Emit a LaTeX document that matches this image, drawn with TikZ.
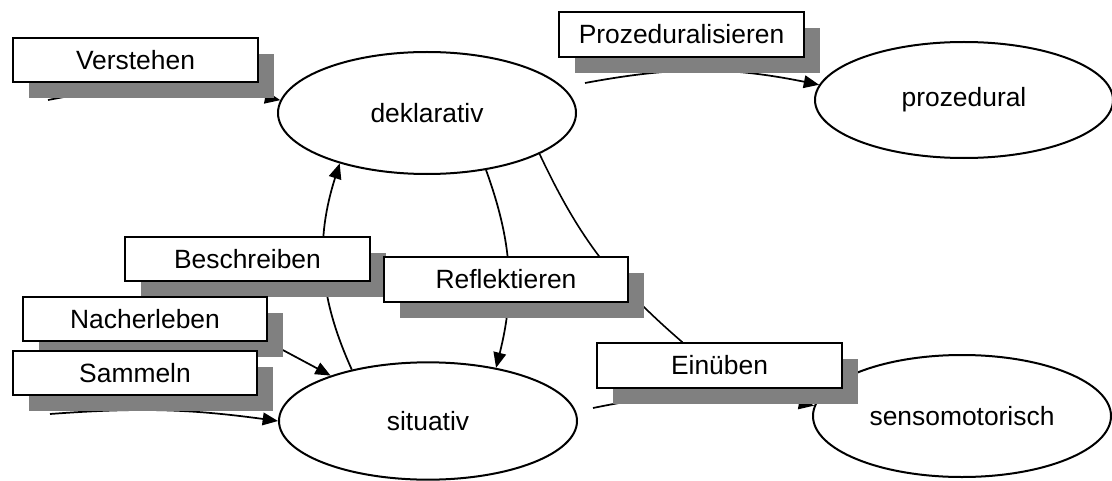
\documentclass[tikz,border=0pt]{standalone}
\usepackage{fontspec}
\setmainfont{Liberation Sans}
\usetikzlibrary{shapes.geometric,arrows.meta,shadows,backgrounds}

\begin{document}
\begin{tikzpicture}[x=0.75pt,y=0.75pt,
  stage/.style={draw,line width=1.5pt,ellipse,minimum width=223.5pt,minimum height=91.5pt,inner sep=0pt,font=\fontsize{19.8}{23}\selectfont},
  activity/.style={draw,line width=1.3pt,fill=white,minimum width=183.5pt,minimum height=33.5pt,inner sep=0pt,font=\fontsize{19.8}{23}\selectfont,general shadow={fill=gray,shadow xshift=12pt,shadow yshift=-12pt}},
  link/.style={line width=1.3pt,-{Triangle[length=11.5pt,width=9.5pt]}}]

\useasboundingbox (0,0) rectangle (1112,-481);

\node[stage] (deklarativ) at (427,-113) {deklarativ};

\node[stage,minimum height=87pt] (prozedural) at (964,-100) {prozedural};

\node[stage,minimum height=88pt] (situativ) at (428,-421) {situativ};

\node[stage] (sensomotorisch) at (962,-416) {sensomotorisch};

\node[activity] (verstehen) at (135.5,-60) {Verstehen};

\node[activity] (prozeduralisieren) at (681.5,-34.5) {Prozeduralisieren};

\node[activity] (beschreiben) at (247.5,-259) {Beschreiben};

\node[activity] (reflektieren) at (506,-279.5) {Reflektieren};

\node[activity] (nacherleben) at (145,-319) {Nacherleben};

\node[activity] (sammeln) at (135,-373) {Sammeln};

\node[activity] (einueben) at (719.5,-365.5) {Einüben};

\coordinate (verstehen start) at (48,-100);

\coordinate (prozeduralisieren start) at (585,-83);

\coordinate (sammeln start) at (50,-414);

\coordinate (einueben start) at (593,-408);

\begin{pgfonlayer}{background}

\draw [link] (verstehen start) to[bend left=11] (deklarativ.175);

\draw [link] (prozeduralisieren start) to[bend left=11] (prozedural.174);

\draw [link] (situativ.146) to[bend left=21] (deklarativ.210);

\draw [link] (deklarativ.316) to[bend left=17] (situativ.38);

\draw [line width=1.2pt] (deklarativ.340) to[bend right=12] ([xshift=-27.75pt]einueben.north);

\draw [link] (nacherleben.south east) -- (situativ.155);

\draw [link] (sammeln start) to[bend left=6] (situativ.180);

\draw [link] (einueben start) to[bend left=11] (sensomotorisch.176);

\end{pgfonlayer}

\end{tikzpicture}
\end{document}
